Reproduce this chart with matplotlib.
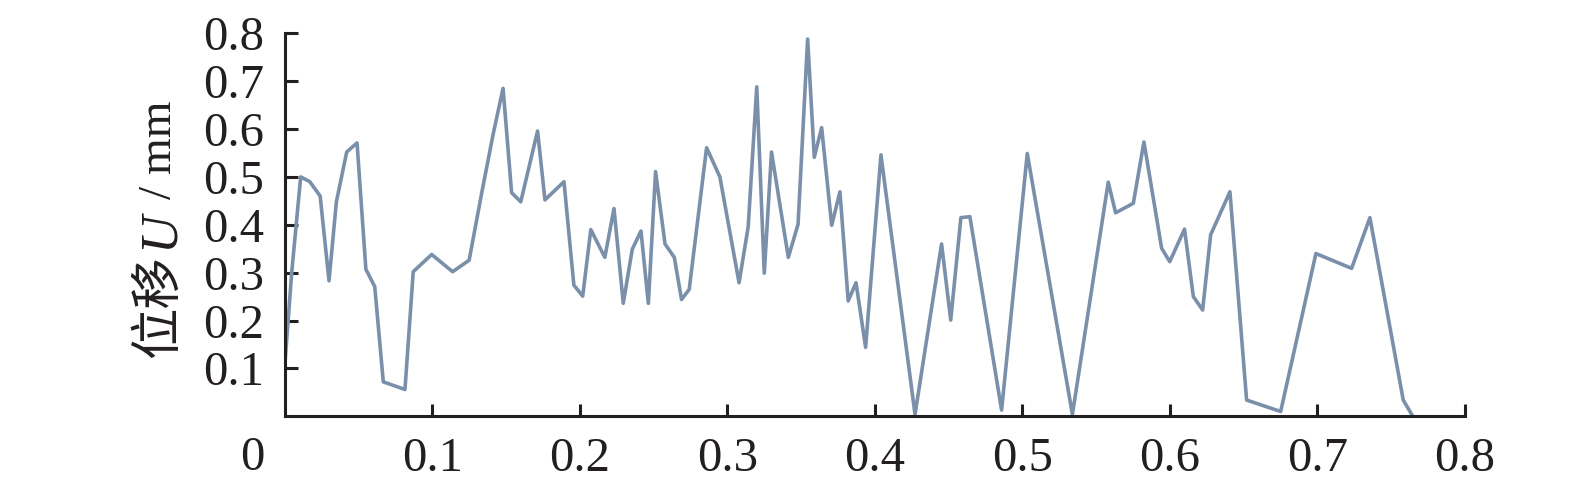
import matplotlib
matplotlib.use("Agg")
import matplotlib.pyplot as plt


# ==========================================
# Data
# ==========================================

x_pos = [
    0.000, 0.0047, 0.0108, 0.017, 0.024, 0.030, 0.035, 0.042, 0.049, 0.055,
    0.061, 0.0668, 0.0815, 0.0871, 0.0996, 0.1138, 0.125, 0.1335, 0.1414, 0.148,
    0.1538, 0.160, 0.1714, 0.1764, 0.1893, 0.196, 0.202, 0.2075, 0.217, 0.2232,
    0.2295, 0.2356, 0.2415, 0.2465, 0.2514, 0.2578, 0.2641, 0.269, 0.2742, 0.286,
    0.295, 0.308, 0.3142, 0.320, 0.3251, 0.330, 0.3414, 0.348, 0.3545, 0.359,
    0.364, 0.3708, 0.3764, 0.382, 0.3873, 0.3938, 0.4042, 0.4273, 0.4453, 0.4515,
    0.4584, 0.4645, 0.486, 0.5034, 0.534, 0.5583, 0.5633, 0.5753, 0.5825, 0.5945,
    0.600, 0.6100, 0.616, 0.6223, 0.6277, 0.6408, 0.6521, 0.6752, 0.6991, 0.7233,
    0.7357, 0.7583, 0.764,
]

displacement = [
    0.105, 0.30, 0.50, 0.49, 0.46, 0.283, 0.448, 0.552, 0.571, 0.307,
    0.271, 0.072, 0.056, 0.302, 0.338, 0.302, 0.326, 0.466, 0.591, 0.685,
    0.467, 0.448, 0.596, 0.452, 0.49, 0.274, 0.251, 0.390, 0.332, 0.434,
    0.236, 0.349, 0.387, 0.236, 0.511, 0.360, 0.332, 0.244, 0.265, 0.561,
    0.50, 0.279, 0.396, 0.688, 0.299, 0.552, 0.332, 0.401, 0.788, 0.541,
    0.603, 0.399, 0.469, 0.241, 0.279, 0.144, 0.546, 0.004, 0.36, 0.201,
    0.415, 0.417, 0.013, 0.549, 0.004, 0.489, 0.425, 0.445, 0.573, 0.351,
    0.323, 0.391, 0.250, 0.222, 0.379, 0.469, 0.034, 0.010, 0.340, 0.309,
    0.415, 0.034, 0.004,
]

x_ticks = [0.1, 0.2, 0.3, 0.4, 0.5, 0.6, 0.7, 0.8]
y_ticks = [0.1, 0.2, 0.3, 0.4, 0.5, 0.6, 0.7, 0.8]


# ==========================================
# Style
# ==========================================

plt.rcParams["font.family"] = ["Liberation Serif", "Noto Sans CJK SC"]
plt.rcParams["font.size"] = 34

ink = "#231f20"


# ==========================================
# Figure
# ==========================================

fig = plt.figure(figsize=(15.75, 4.88), dpi=100)

ax = fig.add_axes([0.1808, 0.1469, 0.7492, 0.7849])

ax.plot(
    x_pos,
    displacement,
    color="#7a90aa",
    linewidth=2.6
)

ax.set_xlim(0, 0.8)
ax.set_ylim(0, 0.8)

ax.set_xticks(x_ticks)
ax.set_xticklabels([f"{t:.1f}" for t in x_ticks])
ax.set_yticks(y_ticks)
ax.set_yticklabels([f"{t:.1f}" for t in y_ticks])

ax.spines["top"].set_visible(False)
ax.spines["right"].set_visible(False)
for side in ["left", "bottom"]:
    ax.spines[side].set_linewidth(2.2)
    ax.spines[side].set_color(ink)

ax.tick_params(
    direction="in",
    length=9,
    width=2.2,
    color=ink,
    labelcolor=ink,
    labelsize=35
)
ax.tick_params(axis="x", pad=15)
ax.tick_params(axis="y", pad=15)

# origin label sits below-left of the corner
ax.text(
    -0.0219, -0.088, "0",
    ha="center", va="center",
    fontsize=35, color=ink,
    clip_on=False
)


# ==========================================
# Y label in pieces (Chinese + italic U)
# ==========================================

def fy(py):
    return 1 - py / 488

fig.text(0.1016, fy(307), "位移", rotation=90, ha="center", va="center",
         fontsize=37, color=ink)
fig.text(0.1016, fy(230), "U", rotation=90, ha="center", va="center",
         fontsize=38, style="italic", color=ink)
fig.text(0.1016, fy(150), "/ mm", rotation=90, ha="center", va="center",
         fontsize=34, color=ink)

fig.savefig("out.png", dpi=100)
